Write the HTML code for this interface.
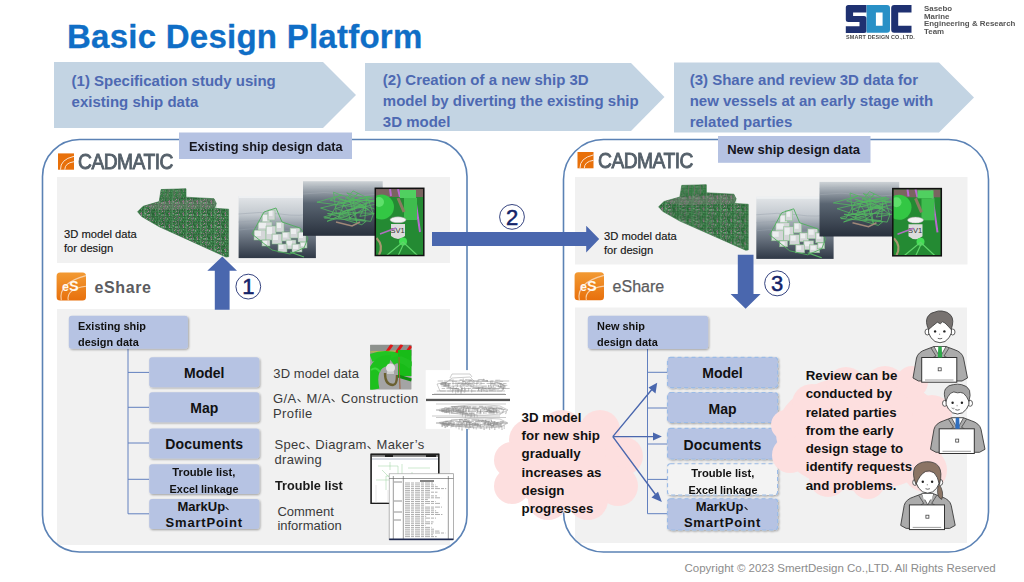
<!DOCTYPE html>
<html><head><meta charset="utf-8">
<style>
html,body{margin:0;padding:0;}
body{width:1024px;height:582px;position:relative;overflow:hidden;background:#fff;font-family:"Liberation Sans",sans-serif;}
.t{position:absolute;white-space:nowrap;transform-origin:0 0;}
svg{position:absolute;left:0;top:0;overflow:visible;}
.chev{font-size:15px;line-height:20.8px;font-weight:bold;color:#4d69b2;}
.lbl{font-size:13px;line-height:13px;font-weight:bold;color:#16161e;}
.cad{font-size:22px;line-height:21px;color:#55606a;transform:scaleX(0.875);letter-spacing:-0.6px;-webkit-text-stroke:0.9px #55606a;}
.esh{font-size:16px;line-height:16px;font-weight:bold;color:#5c5c60;letter-spacing:0.6px;}
.d3{font-size:11.2px;line-height:14.1px;color:#161616;-webkit-text-stroke:0.15px #161616;}
.root{font-size:11.5px;line-height:16px;font-weight:bold;color:#111;transform:scaleX(0.95);}
.bx{position:absolute;left:0;width:100%;text-align:center;font-weight:bold;color:#111;white-space:nowrap;}
.side{font-size:13px;color:#3a3a3a;letter-spacing:0.3px;}
.cloud{font-size:13.3px;line-height:18.3px;font-weight:bold;color:#111;}
.cm{display:inline-block;width:10px;position:relative;}
.cm:after{content:"";position:absolute;left:0.3px;top:-2.6px;width:4px;height:1.2px;background:currentColor;transform:rotate(45deg);}
</style></head><body>
<svg width="1024" height="582" viewBox="0 0 1024 582">
  <!-- chevrons -->
  <polygon points="54,62 323,62 356,95 323,128 54,128" fill="#c3d4e3"/>
  <polygon points="365,63 631,63 664.5,97 631,131 365,131" fill="#c3d4e3"/>
  <polygon points="674,62.5 939,62.5 974,97.5 939,132.5 674,132.5" fill="#c3d4e3"/>
  <!-- gray panels -->
  <rect x="57" y="177" width="393" height="86" fill="#f1f1f1"/>
  <rect x="575" y="177" width="392.5" height="87.5" fill="#f1f1f1"/>
  <rect x="57" y="309" width="393" height="236" fill="#f1f1f1"/>
  <rect x="575" y="307.5" width="392" height="235.5" fill="#f1f1f1"/>
  <!-- big boxes -->
  <rect x="42.5" y="139.5" width="424.5" height="412.5" rx="37" ry="37" fill="none" stroke="#5b82b5" stroke-width="1.6"/>
  <rect x="563.5" y="139.5" width="425" height="412.5" rx="40" ry="40" fill="none" stroke="#5b82b5" stroke-width="1.6"/>
  <!-- label boxes -->
  <rect x="179" y="132.5" width="173" height="26.5" fill="#b5c2e2"/>
  <rect x="718" y="136" width="152.5" height="26.8" fill="#b5c2e2"/>

  <!-- trees -->
  <defs>
    <filter id="sh" x="-10%" y="-20%" width="125%" height="150%"><feGaussianBlur in="SourceAlpha" stdDeviation="1.2"/><feOffset dx="0.5" dy="1" result="b"/><feComponentTransfer><feFuncA type="linear" slope="0.35"/></feComponentTransfer><feMerge><feMergeNode/><feMergeNode in="SourceGraphic"/></feMerge></filter>
  </defs>
  <g stroke="#6280bf" stroke-width="1" fill="none">
    <path d="M128,349 V513.8 M128,372.4 H149 M128,407.3 H149 M128,443 H149 M128,479.3 H149 M128,513.8 H149"/>
    <path d="M647.5,349 V513.7 M647.5,372.3 H667.5 M647.5,408 H667.5 M647.5,444 H667.5 M647.5,479.4 H667.5 M647.5,513.7 H667.5"/>
  </g>
  <g fill="#b6c3e3" filter="url(#sh)">
    <rect x="68.8" y="315.8" width="119.1" height="33" rx="3"/>
    <rect x="149.2" y="357.2" width="110.1" height="30" rx="3"/>
    <rect x="149.2" y="392.3" width="110.1" height="30" rx="3"/>
    <rect x="149.2" y="428.4" width="110.1" height="30.2" rx="3"/>
    <rect x="149.2" y="464.3" width="110.1" height="29.7" rx="3"/>
    <rect x="149.2" y="499" width="110.1" height="30" rx="3"/>
    <rect x="587.8" y="315.8" width="120.3" height="33.2" rx="3"/>
  </g>
  <g fill="#b6c3e3" stroke="#9bbbe6" stroke-width="1.2" stroke-dasharray="4 3" filter="url(#sh)">
    <rect x="667.5" y="357.3" width="110.1" height="30.3" rx="3"/>
    <rect x="667.5" y="392.5" width="110.1" height="30" rx="3"/>
    <rect x="667.5" y="428.4" width="110.1" height="30.6" rx="3"/>
    <rect x="667.5" y="463.75" width="110.1" height="31.25" rx="3" fill="#f3f3f3"/>
    <rect x="667.5" y="498.75" width="110.1" height="31.25" rx="3"/>
  </g>

  <!-- arrows -->
  <g fill="#4a67ae">
    <polygon points="222.3,256.5 237,270.7 229.6,270.7 229.6,309.7 214.8,309.7 214.8,270.7 207.3,270.7"/>
    <polygon points="432,231.9 586.2,231.9 586.2,225.8 599.2,238.9 586.2,252.4 586.2,245.9 432,245.9"/>
    <polygon points="737.8,254.8 753.5,254.8 753.5,294.1 760.6,294.1 745.6,308.8 730.6,294.1 737.8,294.1"/>
  </g>
  <!-- number circles -->
  <g fill="#fff" stroke="#1f2f72" stroke-width="0.9">
    <circle cx="248.3" cy="286.6" r="12.4"/>
    <circle cx="512" cy="216.9" r="12.4"/>
    <circle cx="777.15" cy="283.35" r="12.5"/>
  </g>

  <!-- clouds -->
  <g fill="#fddfdf">
    <ellipse cx="568" cy="465" rx="62" ry="45"/>
    <circle cx="530" cy="440" r="21"/>
    <circle cx="562" cy="432" r="22"/>
    <circle cx="600" cy="430" r="20"/>
    <circle cx="624" cy="456" r="19"/>
    <circle cx="618" cy="486" r="20"/>
    <circle cx="588" cy="500" r="20"/>
    <circle cx="548" cy="500" r="20"/>
    <circle cx="512" cy="486" r="18"/>
    <circle cx="512" cy="460" r="18"/>
  </g>
  <g fill="#fddfdf">
    <ellipse cx="862" cy="433" rx="86" ry="58"/>
    <circle cx="812" cy="404" r="20"/>
    <circle cx="846" cy="387" r="20"/>
    <circle cx="885" cy="386" r="20"/>
    <circle cx="912" cy="382" r="16"/>
    <circle cx="932" cy="415" r="20"/>
    <circle cx="925" cy="470" r="22"/>
    <circle cx="868" cy="482" r="17"/>
    <circle cx="828" cy="478" r="19"/>
    <circle cx="790" cy="455" r="18"/>
    <circle cx="786" cy="425" r="15"/>
  </g>
  <!-- cloud arrows -->
  <g stroke="#4a67ae" stroke-width="1.4" fill="none">
    <path d="M612.8,436.6 L653.5,387.5 M612.8,436.6 L655,436.6 M612.8,436.6 L655.5,494.5"/>
  </g>
  <g fill="#4a67ae">
    <polygon points="657.2,382.7 655.5,393.5 648.5,387.5"/>
    <polygon points="661.9,436.6 653,440.6 653,432.6"/>
    <polygon points="661.9,501.9 651.5,497.5 658,491.8"/>
  </g>

  <!-- SDC logo -->
  <path fill="#1f3171" d="M848.3,4.9 H866.5 V12.5 H853.1 V16 H864 Q866.5,16 866.5,18.5 V30.4 Q866.5,32.9 864,32.9 H845.8 V26.2 H859.5 V22.1 H848.3 Q845.8,22.1 845.8,19.6 V7.4 Q845.8,4.9 848.3,4.9 Z"/>
  <path fill="#2990c6" fill-rule="evenodd" d="M866.6,5.1 H887 Q890,5.1 890,8.1 V29.8 Q890,32.8 887,32.8 H866.6 Z M875.9,12.5 V25.8 H882.6 V12.5 Z"/>
  <path fill="#1f3171" d="M894.2,5.1 H911.5 V12.5 H898.2 V25.8 H911.5 V32.8 H894.2 Q891.2,32.8 891.2,29.8 V8.1 Q891.2,5.1 894.2,5.1 Z"/>

  <!-- CADMATIC icons -->
  <defs>
    <linearGradient id="eg" x1="0" y1="0" x2="0" y2="1"><stop offset="0" stop-color="#f29a33"/><stop offset="1" stop-color="#e8700c"/></linearGradient>
  </defs>
  <g id="cadicon">
    <rect x="58" y="153.4" width="16" height="16.3" fill="#e8700a"/>
    <path d="M60.5,169.7 Q60,159.5 74,156.3" fill="none" stroke="#fbe3cf" stroke-width="1"/>
    <path d="M64.8,169.7 Q64.8,163 74,161.7" fill="none" stroke="#fbe3cf" stroke-width="1"/>
  </g>
  <use href="#cadicon" transform="translate(519.5,-1.4)"/>
  <!-- eShare icons -->
  <g id="esicon">
    <rect x="56.6" y="272.5" width="29.4" height="28" rx="3.5" fill="url(#eg)"/>
    <path d="M61.3,300.3 Q58,283 86,275.6" fill="none" stroke="#f8cfa5" stroke-width="1.1"/>
    <path d="M68.3,300.3 Q66,289 86,286.3" fill="none" stroke="#f8cfa5" stroke-width="1.1"/>
    <text x="62" y="291.3" font-family="Liberation Sans" font-weight="bold" font-size="12.5" fill="#fff8ef">e<tspan font-size="14.5">S</tspan></text>
  </g>
  <use href="#esicon" transform="translate(518,-0.2)"/>

  <!-- ===== images ===== -->
  <defs>
    <linearGradient id="w2" x1="0" y1="0" x2="0" y2="1"><stop offset="0" stop-color="#e3e6e9"/><stop offset="0.3" stop-color="#c2c8ce"/><stop offset="0.55" stop-color="#7d8793"/><stop offset="1" stop-color="#2f3846"/></linearGradient>
    <linearGradient id="w3" x1="0" y1="0" x2="0" y2="1"><stop offset="0" stop-color="#cdd2d6"/><stop offset="0.15" stop-color="#a0a8b0"/><stop offset="0.4" stop-color="#5a6572"/><stop offset="1" stop-color="#29313d"/></linearGradient>
    <pattern id="shp" width="14" height="12" patternUnits="userSpaceOnUse"><rect width="14" height="12" fill="#3a7a47"/><rect x="0" y="0" width="1" height="1" fill="#5a9e68"/><rect x="2" y="0" width="1" height="1" fill="#266634"/><rect x="5" y="0" width="1" height="1" fill="#8c7080"/><rect x="6" y="0" width="1" height="1" fill="#8c7080"/><rect x="8" y="0" width="1" height="1" fill="#5a9e68"/><rect x="9" y="0" width="1" height="1" fill="#5a9e68"/><rect x="1" y="1" width="1" height="1" fill="#5a9e68"/><rect x="7" y="1" width="1" height="1" fill="#8c7080"/><rect x="10" y="1" width="1" height="1" fill="#266634"/><rect x="11" y="1" width="1" height="1" fill="#8c7080"/><rect x="4" y="2" width="1" height="1" fill="#266634"/><rect x="6" y="2" width="1" height="1" fill="#a88098"/><rect x="9" y="2" width="1" height="1" fill="#8c7080"/><rect x="10" y="2" width="1" height="1" fill="#5a9e68"/><rect x="11" y="2" width="1" height="1" fill="#5a9e68"/><rect x="13" y="2" width="1" height="1" fill="#a88098"/><rect x="1" y="3" width="1" height="1" fill="#266634"/><rect x="3" y="3" width="1" height="1" fill="#266634"/><rect x="4" y="3" width="1" height="1" fill="#266634"/><rect x="13" y="3" width="1" height="1" fill="#5a9e68"/><rect x="5" y="4" width="1" height="1" fill="#5a9e68"/><rect x="8" y="4" width="1" height="1" fill="#266634"/><rect x="9" y="4" width="1" height="1" fill="#8c7080"/><rect x="12" y="4" width="1" height="1" fill="#8c7080"/><rect x="0" y="5" width="1" height="1" fill="#266634"/><rect x="1" y="5" width="1" height="1" fill="#5a9e68"/><rect x="2" y="5" width="1" height="1" fill="#266634"/><rect x="5" y="5" width="1" height="1" fill="#8c7080"/><rect x="7" y="5" width="1" height="1" fill="#8c7080"/><rect x="9" y="5" width="1" height="1" fill="#266634"/><rect x="0" y="6" width="1" height="1" fill="#266634"/><rect x="1" y="6" width="1" height="1" fill="#8c7080"/><rect x="3" y="6" width="1" height="1" fill="#8c7080"/><rect x="4" y="6" width="1" height="1" fill="#5a9e68"/><rect x="5" y="6" width="1" height="1" fill="#266634"/><rect x="7" y="6" width="1" height="1" fill="#5a9e68"/><rect x="8" y="6" width="1" height="1" fill="#8c7080"/><rect x="10" y="6" width="1" height="1" fill="#266634"/><rect x="13" y="6" width="1" height="1" fill="#266634"/><rect x="8" y="7" width="1" height="1" fill="#a88098"/><rect x="10" y="7" width="1" height="1" fill="#5a9e68"/><rect x="11" y="7" width="1" height="1" fill="#266634"/><rect x="1" y="8" width="1" height="1" fill="#8c7080"/><rect x="2" y="8" width="1" height="1" fill="#266634"/><rect x="4" y="8" width="1" height="1" fill="#8c7080"/><rect x="7" y="8" width="1" height="1" fill="#8c7080"/><rect x="11" y="8" width="1" height="1" fill="#266634"/><rect x="0" y="9" width="1" height="1" fill="#8c7080"/><rect x="1" y="9" width="1" height="1" fill="#8c7080"/><rect x="4" y="9" width="1" height="1" fill="#5a9e68"/><rect x="5" y="9" width="1" height="1" fill="#a88098"/><rect x="7" y="9" width="1" height="1" fill="#266634"/><rect x="8" y="9" width="1" height="1" fill="#266634"/><rect x="9" y="9" width="1" height="1" fill="#266634"/><rect x="10" y="9" width="1" height="1" fill="#266634"/><rect x="12" y="9" width="1" height="1" fill="#266634"/><rect x="13" y="9" width="1" height="1" fill="#266634"/><rect x="1" y="10" width="1" height="1" fill="#8c7080"/><rect x="4" y="10" width="1" height="1" fill="#266634"/><rect x="5" y="10" width="1" height="1" fill="#5a9e68"/><rect x="7" y="10" width="1" height="1" fill="#5a9e68"/><rect x="8" y="10" width="1" height="1" fill="#5a9e68"/><rect x="9" y="10" width="1" height="1" fill="#a88098"/><rect x="11" y="10" width="1" height="1" fill="#5a9e68"/><rect x="12" y="10" width="1" height="1" fill="#266634"/><rect x="13" y="10" width="1" height="1" fill="#266634"/><rect x="1" y="11" width="1" height="1" fill="#a88098"/><rect x="3" y="11" width="1" height="1" fill="#5a9e68"/><rect x="4" y="11" width="1" height="1" fill="#266634"/><rect x="7" y="11" width="1" height="1" fill="#a88098"/><rect x="8" y="11" width="1" height="1" fill="#5a9e68"/><rect x="9" y="11" width="1" height="1" fill="#5a9e68"/><rect x="11" y="11" width="1" height="1" fill="#5a9e68"/><rect x="0" y="0" width="14" height="0.6" fill="#285f35"/><rect x="0" y="6" width="14" height="0.6" fill="#285f35"/><rect x="4" y="0" width="0.6" height="12" fill="#62a070"/><rect x="10" y="0" width="0.6" height="12" fill="#7a6a78"/></pattern>
    <g id="ship">
      <path d="M137.6,211.8 L143.1,206.3 L159.2,201.6 L161.1,189.5 L186,188.8 L186,197.2 L214,198.7 L216.2,203.4 L214.5,208.3 L228.6,209.2 L228.6,256.7 L226,257 L188.4,239.9 L159.2,226.7 L141.7,216.5 Z" fill="url(#shp)"/>
      <path d="M150,212.3 L228.6,214.0 M150,213.2 L228.6,220.0 M150,214.1 L228.6,226.0 M150,215.0 L228.6,232.0 M150,215.9 L228.6,238.0 M150,216.8 L228.6,244.0 M150,217.7 L228.6,250.0" stroke="#2a6236" stroke-width="0.6" fill="none" opacity="0.8"/>
      <path d="M146,205.6 V216.0 M151,205.4 V218.5 M156,205.2 V220.9 M161,205.0 V223.4 M166,204.8 V225.9 M171,204.5 V228.4 M176,204.3 V230.9 M181,204.1 V233.4 M186,203.9 V235.8 M191,203.7 V238.3 M196,203.4 V240.8 M201,203.2 V243.3 M206,203.0 V245.8 M211,202.8 V248.3 M216,202.6 V250.7 M221,208.7 V253.2 M226,208.9 V255.7" stroke="#5d9a69" stroke-width="0.5" fill="none" opacity="0.7"/>
      <path d="M143.1,206.3 L159.2,201.6 L214,198.7 L216.2,203.4 L214.5,208.3 L160,210 Z" fill="#8a7a80" opacity="0.35"/>
      <path d="M161.1,189.5 L186,188.8 L186,197.2 L161.1,201 Z" fill="#3a8048" opacity="0.5"/>
      <path d="M168,189.3 V200 M174,189.1 V199.5 M180,189 V199" stroke="#8a6a7a" stroke-width="0.6" opacity="0.8"/>
      <path d="M137.6,211.8 L143.1,206.3 L159.2,201.6 L161.1,189.5 L186,188.8 L186,197.2 L214,198.7 L216.2,203.4 L214.5,208.3 L228.6,209.2 L228.6,256.7 L226,257 L188.4,239.9 L159.2,226.7 L141.7,216.5 Z" fill="none" stroke="#2e6e3c" stroke-width="0.6"/>
    </g>
    <g id="img2">
      <rect x="238.6" y="196" width="77.3" height="62.1" fill="url(#w2)"/>
      <path d="M238.6,214 Q260,211 280,214 T316,213 M238.6,222 Q258,219 278,222 T316,221 M238.6,230 Q262,227 282,230 T316,229" stroke="#9aa3ad" stroke-width="0.8" fill="none" opacity="0.6"/>
      <rect x="238.6" y="196" width="77.3" height="2" fill="#eef0f2"/>
      <rect x="262" y="214" width="8" height="12" fill="#d4d6d8" stroke="#7fbf86" stroke-width="0.5"/><rect x="263" y="215" width="4.0" height="6.0" fill="#eceeef"/><rect x="268" y="210" width="7" height="10" fill="#d4d6d8" stroke="#7fbf86" stroke-width="0.5"/><rect x="269" y="211" width="3.5" height="5.0" fill="#eceeef"/><rect x="258" y="222" width="14" height="10" fill="#d4d6d8" stroke="#7fbf86" stroke-width="0.5"/><rect x="259" y="223" width="7.0" height="5.0" fill="#eceeef"/><rect x="254" y="230" width="12" height="10" fill="#d4d6d8" stroke="#7fbf86" stroke-width="0.5"/><rect x="255" y="231" width="6.0" height="5.0" fill="#eceeef"/><rect x="266" y="226" width="10" height="14" fill="#d4d6d8" stroke="#7fbf86" stroke-width="0.5"/><rect x="267" y="227" width="5.0" height="7.0" fill="#eceeef"/><rect x="276" y="222" width="8" height="10" fill="#d4d6d8" stroke="#7fbf86" stroke-width="0.5"/><rect x="277" y="223" width="4.0" height="5.0" fill="#eceeef"/><rect x="272" y="234" width="10" height="10" fill="#d4d6d8" stroke="#7fbf86" stroke-width="0.5"/><rect x="273" y="235" width="5.0" height="5.0" fill="#eceeef"/><rect x="282" y="232" width="9" height="9" fill="#d4d6d8" stroke="#7fbf86" stroke-width="0.5"/><rect x="283" y="233" width="4.5" height="4.5" fill="#eceeef"/><rect x="290" y="228" width="10" height="10" fill="#d4d6d8" stroke="#7fbf86" stroke-width="0.5"/><rect x="291" y="229" width="5.0" height="5.0" fill="#eceeef"/><rect x="298" y="232" width="8" height="10" fill="#d4d6d8" stroke="#7fbf86" stroke-width="0.5"/><rect x="299" y="233" width="4.0" height="5.0" fill="#eceeef"/><rect x="286" y="240" width="10" height="9" fill="#d4d6d8" stroke="#7fbf86" stroke-width="0.5"/><rect x="287" y="241" width="5.0" height="4.5" fill="#eceeef"/><rect x="278" y="244" width="9" height="8" fill="#d4d6d8" stroke="#7fbf86" stroke-width="0.5"/><rect x="279" y="245" width="4.5" height="4.0" fill="#eceeef"/><rect x="292" y="244" width="10" height="8" fill="#d4d6d8" stroke="#7fbf86" stroke-width="0.5"/><rect x="293" y="245" width="5.0" height="4.0" fill="#eceeef"/><rect x="262" y="240" width="8" height="6" fill="#d4d6d8" stroke="#7fbf86" stroke-width="0.5"/><rect x="263" y="241" width="4.0" height="3.0" fill="#eceeef"/><rect x="300" y="242" width="7" height="6" fill="#d4d6d8" stroke="#7fbf86" stroke-width="0.5"/><rect x="301" y="243" width="3.5" height="3.0" fill="#eceeef"/>
      <path d="M252,234 L264,212 L276,208 L282,222 L300,228 L308,238 L304,248 L290,254 L272,250 Z" fill="none" stroke="#4fae5c" stroke-width="0.9"/>
      <path d="M290,252 L304,257" stroke="#5ab866" stroke-width="1.2"/>
    </g>
    <g id="img3">
      <rect x="303" y="181.2" width="79.7" height="54.6" fill="url(#w3)"/>
      <path d="M303,188 Q330,185 350,188 T383,187 M303,194 Q325,191 345,194 T383,193" stroke="#aab2ba" stroke-width="0.8" fill="none" opacity="0.5"/>
      <path d="M323.5,217.0 L356.4,208.1 L327.1,221.3 L368.5,209.5 L347.4,197.9 L353.0,190.9 L367.6,197.8 L373.3,213.9 L346.8,192.9 L378.6,203.5 L343.7,211.2 L336.0,208.4 L372.6,197.9 L366.6,196.8 L364.8,220.0 L352.7,218.6 L320.6,208.0 L369.9,196.4 L340.7,203.3 L343.6,204.2 L346.7,208.6 L350.5,219.4 L327.5,213.6 L351.0,214.2 L336.3,213.1 L333.5,192.3 L366.4,203.7 L359.8,216.4 L379.3,212.8 L373.8,208.6 L338.3,198.4 L366.2,208.3 L330.1,200.2 L341.4,195.2 L316.9,202.2 L364.2,208.1 L348.8,218.6 L370.7,221.4 L373.7,213.3 L341.8,212.4 L371.5,200.9 L349.4,199.6 L357.1,223.8 L352.9,198.8 L357.9,193.3 L349.7,201.6 L346.6,197.2 L338.4,217.8 L361.8,224.7 L366.2,221.2 L324.3,217.9 L329.7,217.3 L339.2,201.0 L375.1,200.4 L347.2,211.1" fill="none" stroke="#52b860" stroke-width="0.8"/>
      <path d="M336,222 L352,226 L360,222" stroke="#a08878" stroke-width="1.6" fill="none"/>
    </g>
    <g id="img4"><clipPath id="c4"><rect x="375.3" y="188.3" width="48.5" height="67.2"/></clipPath><g clip-path="url(#c4)">
      <rect x="375.3" y="188.3" width="48.5" height="67.2" fill="#248a33"/>
      <rect x="376" y="189" width="47" height="8" fill="#7a6460"/>
      <path d="M390,189 L391,196 M398,189 L400,197 M414,190 L420,232" stroke="#b86ad0" stroke-width="2"/>
      <rect x="400" y="190" width="16" height="8" fill="#50d060"/>
      <circle cx="381.5" cy="207" r="12.5" fill="#33c744"/>
      <circle cx="379" cy="202" r="5" fill="#7cf085" opacity="0.6"/>
      <rect x="404" y="198" width="13" height="22" fill="#3fbd4e"/>
      <path d="M398,198 L404,212" stroke="#8a7a60" stroke-width="3"/>
      <ellipse cx="398" cy="219.8" rx="8" ry="3" fill="#f2f2f2" stroke="#999" stroke-width="0.5"/>
      <path d="M391,224 H405 V236 Q398,242 391,236 Z" fill="#dcdcdc"/>
      <text x="390.5" y="233" font-family="Liberation Sans" font-size="7.5" fill="#333">SV1</text>
      <circle cx="403" cy="241.5" r="4" fill="#44dd55"/>
      <path d="M386,256 L403,242 L418,256 M404,243 L398,256" stroke="#5fd46a" stroke-width="1.2" fill="none"/>
      <path d="M376.5,238 Q384,246 379,255" stroke="#a89870" stroke-width="2.2" fill="none"/>
      <path d="M380,234 L396,228" stroke="#b070c0" stroke-width="1.5"/>
    </g><rect x="375.3" y="188.3" width="48.5" height="67.2" fill="none" stroke="#111" stroke-width="1.5"/></g>
  </defs>
  <use href="#ship"/>
  <use href="#img2"/>
  <use href="#img3"/>
  <use href="#img4"/>
  <use href="#ship" transform="translate(659,206.4) scale(0.985,0.96) translate(-138,-211.4)"/>
  <use href="#img2" transform="translate(517.7,0.8)"/>
  <use href="#img3" transform="translate(516.5,0.7)"/>
  <use href="#img4" transform="translate(517.5,0.3)"/>

  <!-- ===== small images ===== -->
  <clipPath id="gclip"><rect x="370.2" y="344.7" width="41.3" height="44.9"/></clipPath><g id="gimg" clip-path="url(#gclip)">
    <rect x="370.2" y="344.7" width="41.3" height="44.9" fill="#a4a4a4"/>
    <rect x="370.2" y="344.7" width="41.3" height="11" fill="#8d918d"/>
    <path d="M384,356 L392,344.7 M394,356 L402,344.7 M404,356 L411,346" stroke="#e01818" stroke-width="3"/>
    <path d="M370.2,352 L396,351" stroke="#c8c040" stroke-width="1"/>
    <path d="M371,358 Q386,352 400,358" stroke="#22c422" stroke-width="8" fill="none"/>
    <path d="M374,389.6 Q370,372 379,364 Q384,360 390,361" stroke="#1ec01e" stroke-width="11" fill="none"/>
    <path d="M371,370 Q376,366 380,372" stroke="#48e048" stroke-width="2" fill="none" opacity="0.7"/>
    <rect x="398" y="350" width="13.5" height="26" fill="#18bc18"/>
    <path d="M392,362 Q400,356 411.5,366" stroke="#20c020" stroke-width="7" fill="none"/>
    <path d="M398,376 L411.5,380" stroke="#0e8e0e" stroke-width="3"/>
    <path d="M385,373 Q385,385 393,385 Q397,385 397,375" stroke="#6a6030" stroke-width="2.4" fill="none"/>
    <circle cx="390.5" cy="368" r="4.5" fill="#e4e4e4"/>
    <rect x="387" y="371.5" width="7" height="2.5" fill="#cfcfcf"/>
    <path d="M399,357 L400,389" stroke="#a0603a" stroke-width="1"/>
  </g>
  <g id="ga"><rect x="425.8" y="370.3" width="84.5" height="58.4" fill="#fff"/><path d="M440,391 L502,391 L505,386 L498,382 L474,381 L470,377 L452,378 L447,382 L437,384 Z M450,378 L452,374 L470,374 L472,377" stroke="#9a9a9a" stroke-width="0.5" fill="none"/><path d="M478.6,386.9v3.9M485.9,389.1h4.3M498.5,384.8v1.8M469.1,381.0v2.9M440.8,383.0h6.6M487.5,380.0v1.8M478.3,379.5h6.4M453.0,380.9v3.7M457.9,389.5v3.2M452.7,388.8v3.9M495.4,382.5h2.8M449.0,380.1h5.0M440.2,384.6h3.5M490.7,383.8h4.4M483.7,378.7v1.6M486.5,388.1h5.9M462.7,384.9h2.2M451.2,388.6h5.8M497.6,386.7h3.8M472.5,387.3h5.7M489.4,387.9h6.7M445.7,382.9v3.8M461.1,389.1v2.3M459.6,380.1h2.7M482.7,390.0h2.2M501.2,384.1h3.2M476.8,387.9h4.1M443.5,386.3h4.5M492.0,380.5v3.9M479.1,387.5h4.2M449.3,387.1h4.3M502.0,385.1v2.6M470.3,386.8h3.5M465.0,379.8h6.9M499.5,384.6h3.7M445.5,382.4v3.7M462.4,387.4v3.2M481.2,387.1h5.5M457.4,383.8v3.2M458.2,389.3v3.0M440.7,384.2h5.4M468.7,387.8v3.5M461.6,385.7v3.6M461.7,388.1v3.2M500.5,385.9v2.8M450.3,387.2v2.7M482.9,386.6v1.9M488.4,384.9v2.6M478.7,387.3v3.3M441.7,382.5h5.3M453.6,386.1v1.6M469.2,380.7h2.7M459.7,380.2h2.2M468.9,382.6v3.0M454.7,388.7h4.0M457.3,382.9h6.2M463.2,378.4v1.7M473.8,382.1v3.9M490.7,383.2v3.1M462.9,379.7v2.9M499.3,386.3v2.4M495.4,380.2h4.8M478.1,379.7v3.7M463.3,383.2h3.5M500.3,383.5v3.8M476.9,381.1v2.7M465.8,381.8v2.7M457.8,383.7h5.1M467.5,381.5v3.6M440.8,384.1h6.7" stroke="#8a8a8a" stroke-width="0.5" fill="none"/><path d="M432,394.5 H506" stroke="#888" stroke-width="0.9"/><rect x="426" y="398.8" width="84" height="2.3" fill="#555"/><path d="M436,410 Q470,402 500,406 L508,410 L500,414 Q470,418 436,410 Z" stroke="#9a9a9a" stroke-width="0.5" fill="none"/><path d="M489.6,408.1h2.8M503.3,409.5v2.7M480.6,410.8v1.8M488.2,408.4v2.3M457.6,410.2h3.8M487.2,410.7h3.3M468.1,413.3v2.9M439.0,410.7h4.9M484.7,411.1h6.6M463.4,409.1v2.0M457.6,412.6h6.2M483.8,409.5h5.9M498.1,408.4h4.7M470.8,408.6h4.9M491.6,407.0h6.1M490.3,411.2h5.6M502.6,411.3v1.6M493.6,408.2v3.9M485.0,407.1h6.6M447.9,410.7h2.8M479.1,406.3h3.9M442.8,408.2v3.4M496.0,408.0h3.6M477.6,409.9v2.4M441.7,410.7h5.2M471.4,413.3v3.1M455.4,410.4h5.8M472.1,407.1h3.9M486.6,407.4v3.1M443.6,410.8h2.6M477.2,407.9v2.7M459.3,412.4h5.6M441.5,408.7v3.2M452.7,407.1v3.2M492.2,407.6v2.4M453.5,408.7v2.4M463.5,407.1v3.1M491.1,409.5v2.8M477.1,410.6v2.5M444.4,407.8h2.2M496.7,409.9v1.5M469.0,413.1v2.6M468.7,406.8h2.8M462.7,409.1v1.9M454.8,408.2h3.4M453.5,409.9h6.6M462.4,413.5v3.2M469.1,413.6h5.3M457.2,411.4v1.9M451.3,406.6h2.4M464.5,413.8h3.6M468.9,408.3v3.3M448.8,408.3v3.9M480.6,409.4v1.5M442.0,411.1h2.2M474.2,413.9v2.4M444.2,408.0v2.7M499.8,408.2h2.3M464.2,406.5h4.0M458.2,406.4h6.9M449.8,410.1h4.7M443.6,409.2h4.7M498.8,410.4v2.0M439.1,410.1h4.9M462.9,411.0v3.8M458.3,409.6v2.1M445.6,409.0h5.9M492.1,408.7h2.4M454.2,406.7h4.9M454.2,406.5v1.6M451.2,408.5h2.5M465.8,408.5v2.9M497.1,410.8v2.9M467.2,412.5v3.9M486.0,411.6h6.1M463.2,407.0h2.8M455.3,411.4h2.3M488.4,410.4h2.3M446.6,409.2v3.9M478.4,407.8h3.8" stroke="#8a8a8a" stroke-width="0.5" fill="none"/><path d="M432,416 H500" stroke="#aaa" stroke-width="0.6"/><path d="M436,423 Q470,416 500,419 L508,423 L500,427 Q470,430 436,423 Z" stroke="#9a9a9a" stroke-width="0.5" fill="none"/><path d="M459.8,419.6v3.6M486.0,420.2v1.9M484.8,422.6v3.5M445.8,422.1v2.7M466.7,422.6v3.8M473.2,426.3v1.8M491.7,422.5h6.9M440.2,423.2h6.4M463.9,421.0h3.0M475.1,422.0v2.1M461.2,421.2v3.6M494.1,423.6h2.7M492.9,422.9h2.8M444.5,423.9v2.0M490.6,421.9v3.7M479.1,425.1h2.1M471.8,423.6h3.9M458.9,419.7h3.9M469.4,424.4h6.9M491.8,425.5v3.2M473.4,425.1h5.0M482.8,423.2h2.4M443.8,422.4v3.4M485.2,421.6v2.2M485.3,420.0v3.2M501.2,424.2v3.6M486.7,423.8h4.6M497.1,421.9v2.9M464.0,419.5h2.9M481.1,425.8v3.0M463.5,420.3v2.9M485.2,422.1v2.0M458.2,421.4v3.7M449.0,423.8v2.1M442.1,423.2v3.7M486.1,422.4h4.6M497.7,422.2h5.0M501.8,422.2h2.6M475.1,423.7h3.0M477.2,424.0v3.3M442.1,422.9v3.9M459.0,425.5v3.8M453.1,424.3v2.7M444.7,421.7h2.5M448.0,423.6h5.8M486.6,425.2v3.3M499.0,424.7v3.9M444.8,421.3h3.0M462.7,422.7v3.4M443.5,422.6v2.4M445.8,423.5h5.4M470.7,426.2v1.7M488.1,424.5h2.6M469.6,422.0v3.8M463.2,421.5h5.5M490.1,423.5h3.7M494.0,423.1h4.1M453.7,424.1h3.4M444.3,422.9v2.9M463.5,426.0h3.8M491.5,420.0v2.4M439.1,422.5h3.9M472.1,419.9h6.9M467.2,422.8h3.4M501.0,423.6v1.6M463.9,424.9h5.0M497.6,423.6v1.6M439.6,423.6h6.4M492.5,425.4h7.0M487.9,425.7h5.9M465.9,426.3v2.0M465.8,421.4h3.4M482.0,420.4h4.3M442.9,422.6v3.7M451.0,420.0v3.9M477.5,420.5h6.6M499.9,421.4h4.1M455.6,424.8h5.9M448.0,423.1v3.3M443.9,421.4v2.4" stroke="#8a8a8a" stroke-width="0.5" fill="none"/><path d="M478.6,386.9v3.9M485.9,389.1h4.3M498.5,384.8v1.8M469.1,381.0v2.9M440.8,383.0h6.6M487.5,380.0v1.8M478.3,379.5h6.4M453.0,380.9v3.7M457.9,389.5v3.2M452.7,388.8v3.9M495.4,382.5h2.8M449.0,380.1h5.0M440.2,384.6h3.5M490.7,383.8h4.4M483.7,378.7v1.6M486.5,388.1h5.9M462.7,384.9h2.2M451.2,388.6h5.8M497.6,386.7h3.8M472.5,387.3h5.7M489.4,387.9h6.7M445.7,382.9v3.8M461.1,389.1v2.3M459.6,380.1h2.7M482.7,390.0h2.2M501.2,384.1h3.2M476.8,387.9h4.1M443.5,386.3h4.5M492.0,380.5v3.9M479.1,387.5h4.2M449.3,387.1h4.3M502.0,385.1v2.6M470.3,386.8h3.5M465.0,379.8h6.9M499.5,384.6h3.7M445.5,382.4v3.7M462.4,387.4v3.2M481.2,387.1h5.5M457.4,383.8v3.2M458.2,389.3v3.0M440.7,384.2h5.4M468.7,387.8v3.5M461.6,385.7v3.6M461.7,388.1v3.2M500.5,385.9v2.8M450.3,387.2v2.7M482.9,386.6v1.9M488.4,384.9v2.6M478.7,387.3v3.3M441.7,382.5h5.3M453.6,386.1v1.6M469.2,380.7h2.7M459.7,380.2h2.2M468.9,382.6v3.0M454.7,388.7h4.0M457.3,382.9h6.2M463.2,378.4v1.7M473.8,382.1v3.9M490.7,383.2v3.1M462.9,379.7v2.9M499.3,386.3v2.4M495.4,380.2h4.8M478.1,379.7v3.7M463.3,383.2h3.5M500.3,383.5v3.8M476.9,381.1v2.7M465.8,381.8v2.7M457.8,383.7h5.1M467.5,381.5v3.6M440.8,384.1h6.7" stroke="#9a9a9a" stroke-width="0.5" fill="none" transform="translate(3,1.2)"/><path d="M489.6,408.1h2.8M503.3,409.5v2.7M480.6,410.8v1.8M488.2,408.4v2.3M457.6,410.2h3.8M487.2,410.7h3.3M468.1,413.3v2.9M439.0,410.7h4.9M484.7,411.1h6.6M463.4,409.1v2.0M457.6,412.6h6.2M483.8,409.5h5.9M498.1,408.4h4.7M470.8,408.6h4.9M491.6,407.0h6.1M490.3,411.2h5.6M502.6,411.3v1.6M493.6,408.2v3.9M485.0,407.1h6.6M447.9,410.7h2.8M479.1,406.3h3.9M442.8,408.2v3.4M496.0,408.0h3.6M477.6,409.9v2.4M441.7,410.7h5.2M471.4,413.3v3.1M455.4,410.4h5.8M472.1,407.1h3.9M486.6,407.4v3.1M443.6,410.8h2.6M477.2,407.9v2.7M459.3,412.4h5.6M441.5,408.7v3.2M452.7,407.1v3.2M492.2,407.6v2.4M453.5,408.7v2.4M463.5,407.1v3.1M491.1,409.5v2.8M477.1,410.6v2.5M444.4,407.8h2.2M496.7,409.9v1.5M469.0,413.1v2.6M468.7,406.8h2.8M462.7,409.1v1.9M454.8,408.2h3.4M453.5,409.9h6.6M462.4,413.5v3.2M469.1,413.6h5.3M457.2,411.4v1.9M451.3,406.6h2.4M464.5,413.8h3.6M468.9,408.3v3.3M448.8,408.3v3.9M480.6,409.4v1.5M442.0,411.1h2.2M474.2,413.9v2.4M444.2,408.0v2.7M499.8,408.2h2.3M464.2,406.5h4.0M458.2,406.4h6.9M449.8,410.1h4.7M443.6,409.2h4.7M498.8,410.4v2.0M439.1,410.1h4.9M462.9,411.0v3.8M458.3,409.6v2.1M445.6,409.0h5.9M492.1,408.7h2.4M454.2,406.7h4.9M454.2,406.5v1.6M451.2,408.5h2.5M465.8,408.5v2.9M497.1,410.8v2.9M467.2,412.5v3.9M486.0,411.6h6.1M463.2,407.0h2.8M455.3,411.4h2.3M488.4,410.4h2.3M446.6,409.2v3.9M478.4,407.8h3.8" stroke="#9a9a9a" stroke-width="0.5" fill="none" transform="translate(3,1.2)"/><path d="M459.8,419.6v3.6M486.0,420.2v1.9M484.8,422.6v3.5M445.8,422.1v2.7M466.7,422.6v3.8M473.2,426.3v1.8M491.7,422.5h6.9M440.2,423.2h6.4M463.9,421.0h3.0M475.1,422.0v2.1M461.2,421.2v3.6M494.1,423.6h2.7M492.9,422.9h2.8M444.5,423.9v2.0M490.6,421.9v3.7M479.1,425.1h2.1M471.8,423.6h3.9M458.9,419.7h3.9M469.4,424.4h6.9M491.8,425.5v3.2M473.4,425.1h5.0M482.8,423.2h2.4M443.8,422.4v3.4M485.2,421.6v2.2M485.3,420.0v3.2M501.2,424.2v3.6M486.7,423.8h4.6M497.1,421.9v2.9M464.0,419.5h2.9M481.1,425.8v3.0M463.5,420.3v2.9M485.2,422.1v2.0M458.2,421.4v3.7M449.0,423.8v2.1M442.1,423.2v3.7M486.1,422.4h4.6M497.7,422.2h5.0M501.8,422.2h2.6M475.1,423.7h3.0M477.2,424.0v3.3M442.1,422.9v3.9M459.0,425.5v3.8M453.1,424.3v2.7M444.7,421.7h2.5M448.0,423.6h5.8M486.6,425.2v3.3M499.0,424.7v3.9M444.8,421.3h3.0M462.7,422.7v3.4M443.5,422.6v2.4M445.8,423.5h5.4M470.7,426.2v1.7M488.1,424.5h2.6M469.6,422.0v3.8M463.2,421.5h5.5M490.1,423.5h3.7M494.0,423.1h4.1M453.7,424.1h3.4M444.3,422.9v2.9M463.5,426.0h3.8M491.5,420.0v2.4M439.1,422.5h3.9M472.1,419.9h6.9M467.2,422.8h3.4M501.0,423.6v1.6M463.9,424.9h5.0M497.6,423.6v1.6M439.6,423.6h6.4M492.5,425.4h7.0M487.9,425.7h5.9M465.9,426.3v2.0M465.8,421.4h3.4M482.0,420.4h4.3M442.9,422.6v3.7M451.0,420.0v3.9M477.5,420.5h6.6M499.9,421.4h4.1M455.6,424.8h5.9M448.0,423.1v3.3M443.9,421.4v2.4" stroke="#9a9a9a" stroke-width="0.5" fill="none" transform="translate(3,1.2)"/><path d="M437.7,381h5.6M444.0,381h9.1M453.6,381h6.5M462.0,381h3.6M466.9,381h7.3M474.7,381h5.7M482.0,381h6.2M489.7,381h4.1M494.7,381h3.8M499.7,381h9.5M440.2,383.5h5.7M447.5,383.5h3.7M452.1,383.5h7.7M461.5,383.5h6.0M468.0,383.5h4.9M473.7,383.5h5.0M480.4,383.5h4.4M486.6,383.5h9.2M496.4,383.5h5.7M503.3,383.5h3.2M441.3,386h3.8M446.4,386h3.8M451.6,386h9.3M461.7,386h3.1M465.4,386h6.8M472.7,386h3.6M477.5,386h9.4M488.1,386h5.8M495.4,386h3.7M500.4,386h4.2M441.7,388.5h3.4M446.4,388.5h7.2M454.3,388.5h4.9M461.2,388.5h10.0M471.9,388.5h7.9M481.7,388.5h4.7M487.8,388.5h3.3M492.2,388.5h7.7M501.3,388.5h8.4M436.8,391h9.0M447.2,391h6.2M454.5,391h9.9M465.7,391h3.1M470.6,391h5.3M477.0,391h4.5M482.7,391h5.3M488.6,391h7.4M496.6,391h8.5M451.0,407h6.9M459.6,407h5.5M466.7,407h4.2M472.5,407h5.1M478.5,407h7.8M487.4,407h4.9M446.5,408.5h4.8M452.8,408.5h3.9M458.5,408.5h4.3M463.3,408.5h7.9M472.0,408.5h7.7M481.7,408.5h6.0M488.2,408.5h3.3M492.4,408.5h4.9M442.0,410h7.8M450.9,410h3.7M455.9,410h3.7M460.2,410h5.8M467.6,410h3.3M472.1,410h6.5M480.2,410h4.9M487.0,410h3.8M492.4,410h6.9M446.5,411.5h5.5M452.6,411.5h3.2M457.2,411.5h3.9M462.5,411.5h3.4M467.6,411.5h4.1M472.2,411.5h3.9M477.3,411.5h5.8M484.1,411.5h3.9M489.2,411.5h7.7M451.0,413h7.7M459.2,413h8.0M469.0,413h5.7M476.1,413h5.7M483.6,413h3.3M488.4,413h5.7M451.0,420h6.6M459.2,420h3.5M464.3,420h5.3M470.8,420h6.2M477.5,420h6.0M484.6,420h7.4M446.5,421.5h7.1M455.2,421.5h6.1M463.1,421.5h3.2M467.7,421.5h6.1M475.3,421.5h5.0M480.9,421.5h3.9M486.3,421.5h3.9M490.8,421.5h4.8M442.0,423h5.7M448.2,423h6.9M456.1,423h6.9M463.5,423h7.8M472.7,423h7.9M482.5,423h7.2M490.4,423h4.7M496.0,423h6.9M446.5,424.5h4.1M451.3,424.5h3.6M456.8,424.5h7.9M465.7,424.5h6.7M473.6,424.5h5.6M480.3,424.5h6.2M487.3,424.5h4.3M492.9,424.5h4.0M451.0,426h7.7M459.3,426h3.5M464.5,426h3.3M468.6,426h7.3M477.3,426h4.1M482.0,426h4.4M487.3,426h7.0" stroke="#7a7a7a" stroke-width="0.45" fill="none"/><path d="M434,394 H505 M436,404 H506 M436,417.5 H506" stroke="#999" stroke-width="0.5"/></g>
  <g id="scr">
    <rect x="371.2" y="454.3" width="67.5" height="49" fill="#fff" stroke="#1a1a1a" stroke-width="1.3"/>
    <rect x="372" y="455" width="66" height="1.8" fill="#777"/>
    <rect x="385" y="455" width="8" height="2" fill="#222"/><rect x="426" y="455" width="10" height="2" fill="#222"/>
    <rect x="372" y="458" width="66" height="2" fill="#d8dce4"/>
    <g stroke="#9ad09f" stroke-width="0.5" fill="none">
      <path d="M378,466 H398 V476 H386 V490 M382,470 L394,482 M402,464 V492 M408,468 H430 M412,472 V486 H428 M376,480 H400 M390,462 V470 M420,476 L432,488"/>
    </g>
    <path d="M376,485 V503 M388,490 V503" stroke="#ccc" stroke-width="0.5"/>
    <rect x="389.2" y="473.8" width="64.1" height="65.9" fill="#fff" stroke="#999" stroke-width="0.6"/>
    <path d="M393.3,476 V539 M403.3,476 V539 M448.3,476 V539 M389.2,478.5 H453.3" stroke="#555" stroke-width="0.6"/>
    <path d="M405,483.0h28.1M405,484.9h30.5M405,486.7h32.8M405,488.6h41.2M405,490.4h25.3M405,492.2h32.5M405,494.1h25.8M405,495.9h32.0M405,497.8h36.1M405,499.6h22.9M405,501.5h30.6M405,503.4h35.5M405,505.2h20.2M405,507.1h37.0M405,508.9h29.2M405,510.8h31.1M405,512.6h33.4M405,514.5h37.4M405,516.3h21.2M405,518.1h31.0M405,520.0h20.8M405,521.9h28.5M405,523.7h27.6M405,525.5h20.5M405,527.4h26.6M405,529.2h29.9M405,531.1h34.4M405,533.0h40.3M405,534.8h28.1M405,536.6h31.7" stroke="#8c8c8c" stroke-width="0.7" stroke-dasharray="5 1 3 1"/>
    <path d="M394,482 H402 M394,501 H402 M394,512 H402 M394,520 H401" stroke="#777" stroke-width="0.8"/>
    <path d="M420,481 H434" stroke="#333" stroke-width="1.2"/>
    <rect x="389.2" y="538.5" width="64.1" height="1.6" fill="#1f2a50"/>
  </g>
  <use href="#gimg"/>
  <use href="#ga"/>
  <use href="#scr"/>

  <!-- ===== people ===== -->
  <defs>
    <g id="body">
      <path d="M913,378 L916.5,358 Q918,352 926,349.5 L934,346.5 L946,346.5 L954,349.5 Q962,352 963.5,358 L967.5,378 L962,381 L918.5,381 Z" fill="#ababab" stroke="#3a3a3a" stroke-width="0.9"/>
      <path d="M934,346.5 L940,357.5 L946,346.5 Z" fill="#fff" stroke="#3a3a3a" stroke-width="0.7"/>
      <path d="M931,348 L936,356 L933,357.5 M949,348 L944,356 L947,357.5" fill="none" stroke="#3a3a3a" stroke-width="0.7"/>
      <rect x="921.7" y="357.5" width="35.1" height="24.7" fill="#fff" stroke="#333" stroke-width="1"/>
      <rect x="938.2" y="367.8" width="3" height="3" fill="#fff" stroke="#444" stroke-width="0.8"/>
      <path d="M925,380 H953.5" stroke="#888" stroke-width="0.8"/>
      <path d="M934.5,339 Q940,350 945.5,339" fill="#fff"/>
    </g>
    <g id="face">
      <ellipse cx="927.3" cy="332" rx="2.3" ry="3" fill="#fff" stroke="#3a3a3a" stroke-width="0.8"/>
      <ellipse cx="952.7" cy="332" rx="2.3" ry="3" fill="#fff" stroke="#3a3a3a" stroke-width="0.8"/>
      <path d="M928.2,322 L928.6,333 Q930,338 935,341.5 Q940,344 945,341.5 Q950,338 951.4,333 L951.8,322 Z" fill="#fff"/>
      <path d="M928.6,329 L928.6,333 Q930,338 935,341.5 Q940,344 945,341.5 Q950,338 951.4,333 L951.4,329" fill="none" stroke="#3a3a3a" stroke-width="0.9"/>
      <circle cx="935.1" cy="331.4" r="1.2" fill="#222"/>
      <circle cx="944.4" cy="331.4" r="1.2" fill="#222"/>
      <path d="M939.6,333.6 V335" stroke="#555" stroke-width="0.6"/>
      <path d="M937.8,338.3 Q940,339.4 942.2,338.3" stroke="#444" stroke-width="0.8" fill="none"/>
    </g>
  </defs>
  <!-- person 1 -->
  <g>
    <use href="#body"/>
    <path d="M938.3,346.5 L941.7,346.5 L942.2,357.5 L937.8,357.5 Z" fill="#2fa84a"/>
    <use href="#face"/>
    <path d="M928.6,329.5 Q925,322 927.5,317 Q930,312.5 935,312 Q938,310.5 942,311 Q948,311.5 951,315.5 Q954.5,320 951.2,329.5 Q948,326 945,323 L942.5,321.8 L940.3,323.8 L937.3,322.2 Q932,326.5 928.6,329.5 Z" fill="#777270" stroke="#3a3a3a" stroke-width="0.8"/>
  </g>
  <!-- person 2 -->
  <g transform="translate(17.5,71.3)">
    <use href="#body"/>
    <path d="M938.3,346.5 L941.7,346.5 L942.2,357.5 L937.8,357.5 Z" fill="#2f6fc0"/>
    <use href="#face"/>
    <path d="M935,337 Q936,338 937,337" stroke="#555" stroke-width="0.6" fill="none"/>
    <path d="M928.4,330 Q925.5,322 928,317.5 Q931,313.5 936,313.3 Q940,312.5 944,313.3 Q950,314.5 952,319 Q953.5,324 951.4,330 Q949.5,325 946,322 Q943,320.5 940,321.5 Q936,319.5 933,322 Q930,325 928.4,330 Z" fill="#a5a5a5" stroke="#3a3a3a" stroke-width="0.8"/><path d="M934,336.5 Q935,337.5 936,336.8" stroke="#666" stroke-width="0.6" fill="none"/>
  </g>
  <!-- person 3 -->
  <g transform="translate(-12.3,147.4)">
    <use href="#body"/>
    <path d="M934.5,346.5 L945.5,346.5 L944,352 L936,352 Z" fill="#fff"/>
    <g transform="translate(0,3)"><path d="M951,333 Q957,342 954,349 Q949,347 950,338 Z" fill="#8b7565" stroke="#3a3a3a" stroke-width="0.7"/>
    <use href="#face"/>
    <path d="M928.3,334 Q924,324 927,317 Q931,311.5 939,311.3 Q947,311 951,316 Q955,322 951.8,334 Q950,326 946.5,322.5 Q942,319.5 938,321 Q932,324 928.3,334 Z" fill="#8b7464" stroke="#3a3a3a" stroke-width="0.8"/>
  </g></g>
</svg>

<!-- title -->
<div class="t" style="left:67px;top:20px;font-size:33px;line-height:33px;font-weight:bold;color:#0f6ec6;letter-spacing:0.25px;-webkit-text-stroke:0.3px #0f6ec6;">Basic Design Platform</div>


<!-- SDC text -->
<div class="t" style="left:845.8px;top:33.6px;font-size:5.6px;line-height:6px;font-weight:bold;color:#4a4a4a;transform:scaleX(0.97);letter-spacing:0.15px;">SMART DESIGN CO.,LTD.</div>
<div class="t" style="left:924.4px;top:5.2px;font-size:7.2px;line-height:7.5px;font-weight:bold;color:#555;transform:scaleX(1.1);">Sasebo<br>Marine<br>Engineering &amp; Research<br>Team</div>

<!-- chevron text -->
<div class="t chev" style="left:71.6px;top:71.4px;">(1) Specification study using<br>existing ship data</div>
<div class="t chev" style="left:382.8px;top:70.1px;">(2) Creation of a new ship 3D<br>model by diverting the existing ship<br>3D model</div>
<div class="t chev" style="left:689.7px;top:70.2px;">(3) Share and review 3D data for<br>new vessels at an early stage with<br>related parties</div>

<!-- labels -->
<div class="t lbl" style="left:188.5px;top:140px;transform:scaleX(0.98);">Existing ship design data</div>
<div class="t lbl" style="left:727.2px;top:142.5px;">New ship design data</div>

<!-- CADMATIC -->
<div class="t cad" style="left:78.3px;top:151px;">CADMATIC</div>
<div class="t cad" style="left:597.8px;top:150px;">CADMATIC</div>

<!-- eShare -->
<div class="t esh" style="left:94.5px;top:279.6px;">eShare</div>
<div class="t esh" style="left:612.6px;top:279px;font-weight:normal;letter-spacing:0;-webkit-text-stroke:0.25px #5c5c60;">eShare</div>

<!-- 3D model data for design -->
<div class="t d3" style="left:64px;top:226.7px;">3D model data<br>for design</div>
<div class="t d3" style="left:604px;top:229.1px;">3D model data<br>for design</div>


<!-- tree text left -->
<div class="t root" style="left:78px;top:317.5px;">Existing ship<br>design data</div>
<div style="position:absolute;left:149.2px;top:0;width:110.1px;height:582px;">
  <div class="bx" style="top:365.75px;font-size:14px;line-height:14px;">Model</div>
  <div class="bx" style="top:401.25px;font-size:14px;line-height:14px;">Map</div>
  <div class="bx" style="top:437.15px;font-size:14px;line-height:14px;letter-spacing:0.2px;">Documents</div>
  <div class="bx" style="top:463.4px;font-size:11.7px;line-height:17px;"><span style="display:inline-block;transform:scaleX(0.96)">Trouble list,</span><br><span style="display:inline-block;transform:scaleX(0.93)">Excel linkage</span></div>
  <div class="bx" style="top:498.5px;font-size:13px;line-height:16px;">MarkUp<span class="cm" style="width:6px"></span><br><span style="letter-spacing:0.8px">SmartPoint</span></div>
</div>
<!-- tree text right -->
<div class="t root" style="left:597.1px;top:317.8px;">New ship<br>design data</div>
<div style="position:absolute;left:667.5px;top:0;width:110.1px;height:582px;">
  <div class="bx" style="top:366px;font-size:14px;line-height:14px;">Model</div>
  <div class="bx" style="top:401.5px;font-size:14px;line-height:14px;">Map</div>
  <div class="bx" style="top:437.5px;font-size:14px;line-height:14px;letter-spacing:0.2px;">Documents</div>
  <div class="bx" style="top:463.5px;font-size:11.7px;line-height:17px;"><span style="display:inline-block;transform:scaleX(0.96)">Trouble list,</span><br><span style="display:inline-block;transform:scaleX(0.93)">Excel linkage</span></div>
  <div class="bx" style="top:498.5px;font-size:13px;line-height:16px;">MarkUp<span class="cm" style="width:6px"></span><br><span style="letter-spacing:0.8px">SmartPoint</span></div>
</div>
<!-- side texts -->
<div class="t side" style="left:273.3px;top:365.7px;line-height:15px;letter-spacing:0.1px;">3D model data</div>
<div class="t side" style="left:273px;top:390.55px;line-height:15.3px;letter-spacing:0.4px;">G/A<span class="cm"></span>M/A<span class="cm"></span>Construction<br>Profile</div>
<div class="t side" style="left:274.5px;top:437.1px;line-height:15px;">Spec<span class="cm"></span>Diagram<span class="cm"></span>Maker’s<br>drawing</div>
<div class="t" style="left:275.2px;top:478.8px;font-size:13px;line-height:13px;font-weight:bold;color:#1a1a1a;transform:scaleX(0.977);">Trouble list</div>
<div class="t side" style="left:277.4px;top:505.4px;line-height:13.4px;letter-spacing:0;">Comment<br>information</div>


<!-- circle digits -->
<div class="t" style="left:235.8px;top:276.3px;width:25px;text-align:center;font-size:22px;line-height:22px;color:#14246a;-webkit-text-stroke:0.5px #14246a;">1</div>
<div class="t" style="left:499.5px;top:206.5px;width:25px;text-align:center;font-size:22px;line-height:22px;color:#14246a;-webkit-text-stroke:0.5px #14246a;">2</div>
<div class="t" style="left:764.6px;top:272.9px;width:25px;text-align:center;font-size:22px;line-height:22px;color:#14246a;-webkit-text-stroke:0.5px #14246a;">3</div>


<!-- cloud text -->
<div class="t cloud" style="left:521.6px;top:408.8px;">3D model<br>for new ship<br>gradually<br>increases as<br>design<br>progresses</div>
<div class="t cloud" style="left:805.7px;top:367px;">Review can be<br>conducted by<br>related parties<br>from the early<br>design stage to<br>identify requests<br>and problems.</div>

<!-- copyright -->
<div class="t" style="left:684.5px;top:562.3px;font-size:11.5px;line-height:12px;color:#8c8c8c;">Copyright © 2023 SmertDesign Co.,LTD. All Rights Reserved</div>

</body></html>
